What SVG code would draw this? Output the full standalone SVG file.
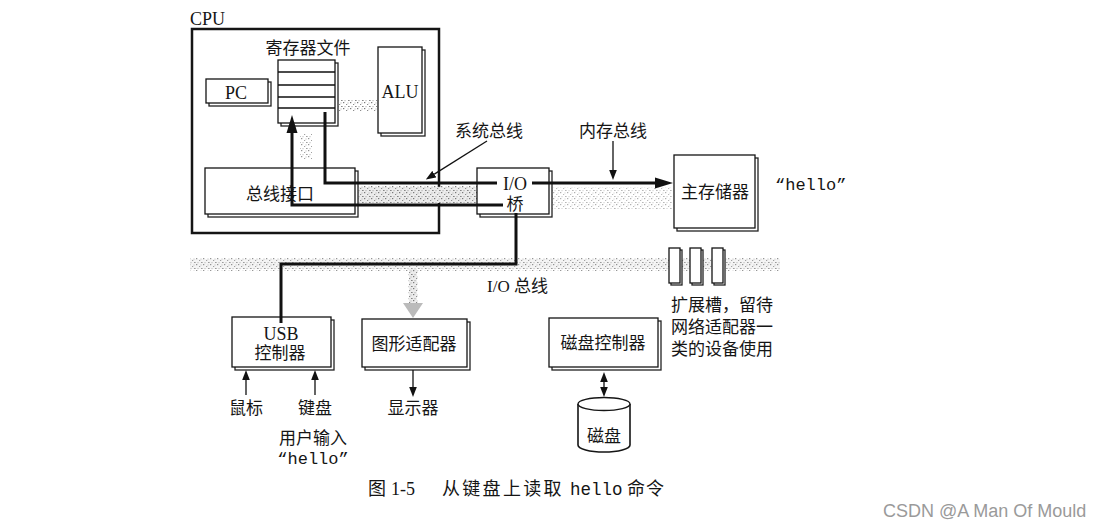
<svg xmlns="http://www.w3.org/2000/svg" width="1102" height="527" viewBox="0 0 1102 527">
<style>
.box{fill:#fff;stroke:#151515;stroke-width:1.3}
.sh{fill:#fff;stroke:#222;stroke-width:1.3}
.t{font-family:"Liberation Serif","Noto Sans CJK SC",serif;font-size:17px;fill:#151515}
.ser{font-family:"Liberation Serif",serif;font-size:18px;fill:#151515}
.mono{font-family:"Liberation Mono",monospace;font-size:17px;fill:#151515}
.bus{fill:none;stroke:#111;stroke-width:3}
.thin{fill:none;stroke:#111;stroke-width:1.3}
.band{fill:url(#spk)}
.under{fill:#ececec}
</style>
<defs>
<pattern id="spk" width="7" height="6" patternUnits="userSpaceOnUse">
<rect x="0" y="0" width="1.3" height="1.2" fill="#7a7a7a"/>
<rect x="3" y="2" width="1.2" height="1" fill="#8a8a8a"/>
<rect x="5.2" y="4" width="1.3" height="1" fill="#6a6a6a"/>
<rect x="1.5" y="4.2" width="1" height="1" fill="#999"/>
<rect x="4.5" y="0.5" width="1" height="1" fill="#aaa"/>
</pattern>
<marker id="big" viewBox="0 -6 18 12" markerWidth="18" markerHeight="12" refX="0" refY="0" orient="auto" markerUnits="userSpaceOnUse">
<path d="M0,-5.5 L18,0 L0,5.5 z" fill="#111"/>
</marker>
<marker id="sm" viewBox="0 -4 10 8" markerWidth="10" markerHeight="8" refX="0" refY="0" orient="auto-start-reverse" markerUnits="userSpaceOnUse">
<path d="M0,-3.8 L10,0 L0,3.8 z" fill="#111"/>
</marker>
</defs>
<rect width="1102" height="527" fill="#fff"/>

<g id="cpu">
<rect x="192" y="29" width="247" height="204" fill="#fff" stroke="#151515" stroke-width="2.5"/>
<text class="ser" x="190" y="25">CPU</text>
</g>

<g id="gray-buses">
<rect class="under" x="358" y="187" width="119" height="16"/>
<rect class="band" x="358" y="186" width="119" height="18"/>
<rect class="band" x="552" y="187" width="120" height="22" opacity="0.6"/>
<rect class="under" x="190" y="259" width="590" height="10" opacity="0.6"/>
<rect class="band" x="190" y="258" width="590" height="13" opacity="0.8"/>
<rect class="band" x="337" y="100" width="40" height="12"/>
<rect class="band" x="300" y="134" width="12" height="26" opacity="0.8"/>
<rect class="under" x="409" y="269" width="8" height="36"/>
<rect class="band" x="408" y="269" width="10" height="38"/>
<polygon points="403,303 423,303 413,318" fill="#bbb"/>
</g>

<g id="register-file">
<text class="t" x="308" y="54" text-anchor="middle">寄存器文件</text>
<rect class="sh" x="281" y="63" width="57" height="63"/>
<rect class="box" x="278" y="60" width="57" height="63"/>
<path class="thin" d="M278,72 H335 M278,85 H335 M278,97 H335 M278,108 H335"/>
</g>

<g id="pc">
<rect class="sh" x="209" y="82" width="62" height="24"/>
<rect class="box" x="206" y="79" width="62" height="24"/>
<text class="ser" x="236" y="99" text-anchor="middle">PC</text>
</g>

<g id="alu">
<rect class="sh" x="381" y="50" width="44" height="86"/>
<rect class="box" x="378" y="47" width="44" height="86"/>
<text class="ser" x="400" y="98" text-anchor="middle">ALU</text>
</g>

<g id="bus-interface">
<rect class="sh" x="208" y="171" width="150" height="46"/>
<rect class="box" x="205" y="168" width="150" height="46"/>
<text class="t" x="280" y="200" text-anchor="middle">总线接口</text>
</g>

<g id="io-bridge">
<rect class="sh" x="480" y="171" width="72" height="46"/>
<rect class="box" x="477" y="168" width="72" height="46"/>
<text class="ser" x="515" y="190" text-anchor="middle">I/O</text>
<text class="t" x="515" y="210" text-anchor="middle">桥</text>
</g>

<g id="main-memory">
<rect class="sh" x="677" y="158" width="81" height="73"/>
<rect class="box" x="674" y="155" width="81" height="73"/>
<text class="t" x="715" y="198" text-anchor="middle">主存储器</text>
<text class="mono" x="775" y="190">“hello”</text>
</g>

<g id="expansion-slots">
<rect class="sh" x="671" y="250" width="11" height="35" stroke-width="2"/>
<rect class="box" x="669" y="248" width="11" height="35"/>
<rect class="sh" x="692" y="250" width="11" height="35" stroke-width="2"/>
<rect class="box" x="690" y="248" width="11" height="35"/>
<rect class="sh" x="714" y="250" width="11" height="35" stroke-width="2"/>
<rect class="box" x="712" y="248" width="11" height="35"/>
<text class="t" x="671" y="311">扩展槽，留待</text>
<text class="t" x="671" y="333">网络适配器一</text>
<text class="t" x="671" y="355">类的设备使用</text>
</g>

<g id="usb-controller">
<rect class="sh" x="235" y="320" width="99" height="50"/>
<rect class="box" x="232" y="317" width="99" height="50"/>
<text class="ser" x="281" y="340" text-anchor="middle">USB</text>
<text class="t" x="280" y="359" text-anchor="middle">控制器</text>
<text class="t" x="246" y="414" text-anchor="middle">鼠标</text>
<text class="t" x="315" y="414" text-anchor="middle">键盘</text>
<text class="t" x="313" y="444" text-anchor="middle">用户输入</text>
<text class="mono" x="313" y="464" text-anchor="middle">“hello”</text>
</g>

<g id="graphics-adapter">
<rect class="sh" x="365" y="322" width="105" height="48"/>
<rect class="box" x="362" y="319" width="105" height="48"/>
<text class="t" x="414" y="350" text-anchor="middle">图形适配器</text>
<text class="t" x="413" y="414" text-anchor="middle">显示器</text>
</g>

<g id="disk-controller">
<rect class="sh" x="552" y="321" width="109" height="49"/>
<rect class="box" x="549" y="318" width="109" height="49"/>
<text class="t" x="603" y="349" text-anchor="middle">磁盘控制器</text>
</g>

<g id="disk">
<path d="M578,404 V445 A26,7 0 0 0 630,445 V404" fill="#fff" stroke="#151515" stroke-width="1.6"/>
<ellipse cx="604" cy="404" rx="26" ry="6.5" fill="#fff" stroke="#151515" stroke-width="1.4"/>
<text class="t" x="604" y="442" text-anchor="middle">磁盘</text>
</g>

<g id="labels">
<text class="t" x="489" y="137" text-anchor="middle">系统总线</text>
<text class="t" x="613" y="137" text-anchor="middle">内存总线</text>
<text class="t" x="487" y="292"><tspan class="ser" style="font-size:17px">I/O</tspan> 总线</text>
</g>

<g id="connectors">
<path class="bus" d="M325,112 V183 H497"/>
<path class="bus" d="M532,183 H655" marker-end="url(#big)"/>
<path class="bus" d="M503,205 H292 V133" marker-end="url(#big)"/>
<path class="bus" d="M516,213 V264 H281 V323"/>
<path class="thin" d="M487,141 L434.3,174.1" marker-end="url(#sm)"/>
<path class="thin" d="M613,141 V170" marker-end="url(#sm)"/>
<path class="thin" d="M246,395 V380" marker-end="url(#sm)"/>
<path class="thin" d="M315,395 V380" marker-end="url(#sm)"/>
<path class="thin" d="M413,370 V387" marker-end="url(#sm)"/>
<path class="thin" d="M604,382 V387" marker-start="url(#sm)" marker-end="url(#sm)"/>
</g>

<g id="caption">
<text class="t" y="495" style="font-size:18px"><tspan x="368">图</tspan><tspan x="391" class="ser" style="font-size:18px">1-5</tspan><tspan x="442" style="letter-spacing:2.3px">从键盘上读取</tspan><tspan x="570" class="mono" style="font-size:17.5px">hello</tspan><tspan x="627" style="letter-spacing:1px">命令</tspan></text>
</g>
<text x="883" y="517" font-family="Liberation Sans, sans-serif" font-size="18" fill="#9a9a9a">CSDN @A Man Of Mould</text>
</svg>
